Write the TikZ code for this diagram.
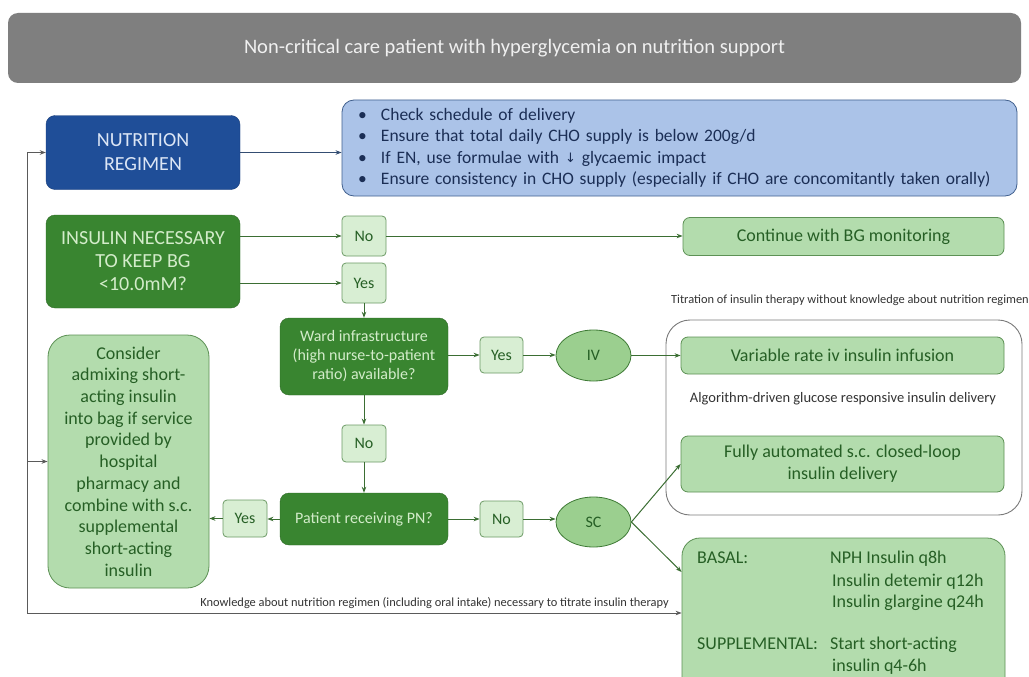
\documentclass[tikz,border=0pt]{standalone}
\usepackage{fontspec}
\setmainfont{Carlito}
\newfontfamily\dejavu{DejaVu Sans}
\usetikzlibrary{shapes.geometric,arrows.meta}
\definecolor{titlegray}{HTML}{7F7F7F}
\definecolor{titletext}{HTML}{F0F0F0}
\definecolor{nblue}{HTML}{1F4E98}
\definecolor{nbluetext}{HTML}{DCE6F5}
\definecolor{infofill}{HTML}{ABC3E8}
\definecolor{infoborder}{HTML}{41608E}
\definecolor{infotext}{HTML}{1B2E55}
\definecolor{dgreen}{HTML}{398530}
\definecolor{dgreentext}{HTML}{D3ECCA}
\definecolor{lgfill}{HTML}{B3DCAD}
\definecolor{lgborder}{HTML}{5D9155}
\definecolor{lgtext}{HTML}{265F25}
\definecolor{ynfill}{HTML}{D8EED3}
\definecolor{ynborder}{HTML}{6C9A65}
\definecolor{ovfill}{HTML}{9BCF8F}
\definecolor{ovborder}{HTML}{3E7A35}
\definecolor{garrow}{HTML}{3B6E33}
\definecolor{fbgray}{HTML}{5A5A5A}
\definecolor{contborder}{HTML}{7A7A7A}
\newcommand{\fs}[2]{\fontsize{#1}{#2}\selectfont}
\begin{document}
\begin{tikzpicture}[x=1pt,y=-1pt,
  titlebox/.style={fill=titlegray, rounded corners=10pt, text=titletext, inner sep=0pt, font=\fs{20.5}{24}},
  bluebox/.style={fill=nblue, draw=nblue!80!black, rounded corners=9pt, text=nbluetext, inner sep=0pt, align=center, font=\fs{20}{24}},
  infobox/.style={fill=infofill, draw=infoborder, line width=0.8pt, rounded corners=12pt, text=infotext, align=left, font=\fs{17.5}{21.5}},
  darkbox/.style={fill=dgreen, draw=dgreen!80!black, rounded corners=9pt, text=dgreentext, inner sep=0pt, align=center},
  lightbox/.style={fill=lgfill, draw=lgborder, line width=0.8pt, rounded corners=7pt, text=lgtext, inner sep=0pt, align=center, font=\fs{18}{21.7}},
  ynbox/.style={fill=ynfill, draw=ynborder, line width=0.8pt, rounded corners=4pt, text=lgtext, inner sep=0pt, minimum width=44pt, minimum height=38pt, font=\fs{16}{18}},
  oval/.style={ellipse, fill=ovfill, draw=ovborder, line width=0.8pt, text=lgtext, inner sep=0pt, minimum width=75pt, minimum height=51pt, font=\fs{16}{18}},
  container/.style={draw=contborder, line width=0.9pt, rounded corners=24pt, inner sep=0pt},
  garr/.style={draw=garrow, line width=1pt, -{Stealth[length=6pt,width=4.5pt]}},
  barr/.style={draw=infoborder!80!black, line width=1pt, -{Stealth[length=6pt,width=4.5pt]}},
  fbarr/.style={draw=fbgray, line width=1pt, -{Stealth[length=6pt,width=4.5pt]}},
  note/.style={text=black!80, inner sep=0pt},
  basaltext/.style={text=lgtext, anchor=base west, inner sep=0pt, font=\fs{18}{21}}
]
\clip (0,0) rectangle (1029,677);
\fill[white] (0,0) rectangle (1029,677);

% title
\node[titlebox, minimum width=1013pt, minimum height=70pt] (title) at (514.5,48) {Non-critical care patient with hyperglycemia on nutrition support};

% nutrition
\node[bluebox, minimum width=194pt, minimum height=74pt] (nutr) at (143,152.5) {NUTRITION\\REGIMEN};
\node[infobox, minimum width=675pt, minimum height=96pt, text width=643pt, inner xsep=16pt, inner ysep=0pt] (info) at (679.5,148) {%
\makebox[23pt][l]{\textbullet}Check schedule of delivery\\
\makebox[23pt][l]{\textbullet}Ensure that total daily CHO supply is below 200g/d\\
\makebox[23pt][l]{\textbullet}If EN, use formulae with {\dejavu\fontsize{13}{14}\selectfont\raisebox{1pt}{↓}} glycaemic impact\\
\makebox[23pt][l]{\textbullet}Ensure consistency in CHO supply (especially if CHO are concomitantly taken orally)};

% insulin
\node[darkbox, minimum width=194pt, minimum height=93pt, font=\fs{20}{23}] (ins) at (143,261.5) {INSULIN NECESSARY\\TO KEEP BG\\<10.0mM?};
\node[ynbox, minimum height=40pt] (no1) at (364,236) {No};
\node[ynbox, minimum height=40pt] (yes1) at (364,283) {Yes};
\node[lightbox, minimum width=321pt, minimum height=38pt] (cont) at (843.5,236.5) {Continue with BG monitoring};

% ward
\node[darkbox, minimum width=168pt, minimum height=77pt, font=\fs{16}{19}] (ward) at (364,356.5) {Ward infrastructure\\(high nurse-to-patient\\ratio) available?};
\node[ynbox, minimum width=43pt, minimum height=36pt] (yes2) at (501.5,355) {Yes};
\node[oval] (iv) at (593.5,355.5) {IV};
\node[ynbox, minimum height=37pt] (no2) at (364,443.5) {No};
\node[darkbox, minimum width=168pt, minimum height=52pt, font=\fs{16}{19}] (pn) at (364,519) {Patient receiving PN?};
\node[ynbox, minimum width=43pt, minimum height=36pt] (no3) at (501.5,519) {No};
\node[oval, minimum height=50pt] (sc) at (593.5,522) {SC};
\node[ynbox, minimum height=37pt] (yes3) at (245,518.5) {Yes};
\node[lightbox, rounded corners=22pt, minimum width=161pt, minimum height=253pt, font=\fs{18}{21.7}] (cons) at (128.5,461.5) {Consider\\admixing short-\\acting insulin\\into bag if service\\provided by\\hospital\\pharmacy and\\combine with s.c.\\supplemental\\short-acting\\insulin};

% right container
\node[note, font=\fs{12.4}{14}, anchor=east] (titr) at (1029,300) {Titration of insulin therapy without knowledge about nutrition regimen};
\node[container, minimum width=356pt, minimum height=195pt] (cbox) at (844,417.5) {};
\node[lightbox, minimum width=323pt, minimum height=37pt] (var) at (842.5,355.5) {Variable rate iv insulin infusion};
\node[note, font=\fs{14.5}{16}] (algo) at (843,399) {Algorithm-driven glucose responsive insulin delivery};
\node[lightbox, minimum width=323pt, minimum height=56pt] (fully) at (842.5,464) {Fully automated s.c. closed-loop\\insulin delivery};

% basal
\node[lightbox, rounded corners=18pt, minimum width=323pt, minimum height=162pt] (basal) at (843.5,619) {};
\node[basaltext] (b1) at (697,563) {BASAL:};
\node[basaltext] (b2) at (830,563) {NPH Insulin q8h};
\node[basaltext] (b3) at (832,586) {Insulin detemir q12h};
\node[basaltext] (b4) at (832,607) {Insulin glargine q24h};
\node[basaltext] (b5) at (697,649) {SUPPLEMENTAL:};
\node[basaltext] (b6) at (830,649) {Start short-acting};
\node[basaltext] (b7) at (832,671) {insulin q4-6h};

\node[note, font=\fs{12.4}{14}, anchor=east] (know) at (669,603) {Knowledge about nutrition regimen (including oral intake) necessary to titrate insulin therapy};

% connectors
\draw[barr] (nutr.east) -- (nutr.east -| info.west);
\draw[garr] (ins.east |- no1.west) -- (no1.west);
\draw[garr] (ins.east |- yes1.west) -- (yes1.west);
\draw[garr] (no1.east) -- (no1.east -| cont.west);
\draw[garr] (yes1.south) -- (ward.north);
\draw[garr] (ward.east |- yes2.west) -- (yes2.west);
\draw[garr] (yes2.east) -- (yes2.east -| iv.west);
\draw[garr] (iv.east) -- (iv.east -| var.west);
\draw[garr] (ward.south) -- (no2.north);
\draw[garr] (no2.south) -- (pn.north);
\draw[garr] (pn.east) -- (pn.east -| no3.west);
\draw[garr] (no3.east) -- (no3.east -| sc.west);
\draw[garr] (pn.west) -- (pn.west -| yes3.east);
\draw[garr] (yes3.west) -- (yes3.west -| cons.east);
\draw[garr] (sc.east) -- (fully.west);
\draw[garr] (sc.east) -- ([yshift=47pt]basal.west);

\coordinate (fb) at (27,613);
\draw[fbarr] (fb) |- (nutr.west);
\draw[fbarr] (fb |- cons.west) -- (cons.west);
\draw[fbarr] (fb) -- (fb -| basal.west);
\end{tikzpicture}
\end{document}
